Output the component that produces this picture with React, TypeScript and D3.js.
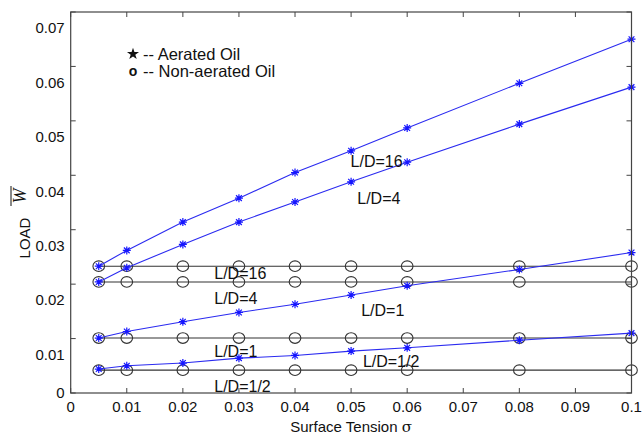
import * as d3 from "d3";

// surface tension values where the load was evaluated
const sigma = [0.005, 0.01, 0.02, 0.03, 0.04, 0.05, 0.06, 0.08, 0.1];

// aerated oil (blue asterisks)
const aeratedLD16 = [0.0233, 0.0262, 0.0314, 0.0358, 0.0405, 0.0445, 0.0487, 0.0569, 0.065];
const aeratedLD4 = [0.0204, 0.023, 0.0273, 0.0314, 0.0351, 0.0388, 0.0424, 0.0494, 0.0562];
const aeratedLD1 = [0.0101, 0.0113, 0.0131, 0.0148, 0.0163, 0.018, 0.0197, 0.0227, 0.0258];
const aeratedLDHalf = [0.0044, 0.005, 0.0055, 0.0064, 0.0069, 0.0077, 0.0083, 0.0097, 0.011];

// non-aerated oil (black circles)
const plainLD16 = [0.0233, 0.0233, 0.0233, 0.0233, 0.0233, 0.0233, 0.0233, 0.0233, 0.0233];
const plainLD4 = [0.0204, 0.0204, 0.0204, 0.0204, 0.0204, 0.0204, 0.0204, 0.0204, 0.0204];
const plainLD1 = [0.0101, 0.0101, 0.0101, 0.0101, 0.0101, 0.0101, 0.0101, 0.0101, 0.0101];
const plainLDHalf = [0.0042, 0.0042, 0.0042, 0.0042, 0.0042, 0.0042, 0.0042, 0.0042, 0.0042];

const xTicks = [0, 0.01, 0.02, 0.03, 0.04, 0.05, 0.06, 0.07, 0.08, 0.09, 0.1];
const xTickLabels = ["0", "0.01", "0.02", "0.03", "0.04", "0.05", "0.06", "0.07", "0.08", "0.09", "0.1"];
const yTicks = [0, 0.01, 0.02, 0.03, 0.04, 0.05, 0.06, 0.07];
const yTickLabels = ["0", "0.01", "0.02", "0.03", "0.04", "0.05", "0.06", "0.07"];

// curve labels, in data units (left edge, vertical centre)
const curveLabels = [
  { text: "L/D=16", x: 0.0499, y: 0.0425 },
  { text: "L/D=4", x: 0.0511, y: 0.0358 },
  { text: "L/D=16", x: 0.0256, y: 0.022 },
  { text: "L/D=4", x: 0.0256, y: 0.0173 },
  { text: "L/D=1", x: 0.0518, y: 0.0151 },
  { text: "L/D=1", x: 0.0256, y: 0.0076 },
  { text: "L/D=1/2", x: 0.0521, y: 0.0058 },
  { text: "L/D=1/2", x: 0.0256, y: 0.0013 },
];

const width = 643;
const height = 437;
const left = 70.7;
const right = 631.5;
const top = 12;
const bottom = 393;
const font = "Liberation Sans, Arial, sans-serif";

function asterisk(cx: number, cy: number, r: number) {
  const d = r * 0.72;
  return `M${cx - r},${cy}h${2 * r}M${cx},${cy - r}v${2 * r}` +
    `M${cx - d},${cy - d}l${2 * d},${2 * d}M${cx - d},${cy + d}l${2 * d},${-2 * d}`;
}

export default function App() {
  const x = d3.scaleLinear().domain([0, 0.1]).range([left, right]);
  const y = d3.scaleLinear().domain([0, 0.07]).range([bottom, top]);
  const line = d3.line<number>().x((_, i) => x(sigma[i])).y(d => y(d));

  const plain = [plainLD16, plainLD4, plainLD1, plainLDHalf];
  const aerated = [aeratedLD16, aeratedLD4, aeratedLD1, aeratedLDHalf];
  const star = d3.symbol().type(d3.symbolStar).size(45)();

  return (
    <svg width={width} height={height} style={{ position: "absolute", left: 0, top: 0, background: "#fff" }}
         fontFamily={font}>
      <rect width={width} height={height} fill="#fff" />

      {/* non-aerated: black lines with circles */}
      {plain.map((s, k) => (
        <g key={"p" + k}>
          <path d={line(s) ?? ""} fill="none" stroke="#333" strokeWidth={1.1} />
          {s.map((v, i) => (
            <ellipse key={i} cx={x(sigma[i])} cy={y(v)} rx={5.8} ry={5.3} fill="none" stroke="#333" strokeWidth={1.1} />
          ))}
        </g>
      ))}

      {/* aerated: blue lines with asterisks */}
      {aerated.map((s, k) => (
        <g key={"a" + k}>
          <path d={line(s) ?? ""} fill="none" stroke="#2b2bf0" strokeWidth={1.1} />
          {s.map((v, i) => (
            <path key={i} d={asterisk(x(sigma[i]), y(v), 4)} stroke="#1515ff" strokeWidth={1.2} fill="none" />
          ))}
        </g>
      ))}

      {/* curve labels */}
      {curveLabels.map((l, i) => (
        <text key={i} x={x(l.x)} y={y(l.y)} dy="0.35em" fontSize={16} fill="#111">{l.text}</text>
      ))}

      {/* axes box */}
      <rect x={left} y={top} width={right - left} height={bottom - top} fill="none" stroke="#444" strokeWidth={1.2} />
      {xTicks.map((t, i) => (
        <g key={"xt" + i}>
          <line x1={x(t)} x2={x(t)} y1={bottom} y2={bottom - 5} stroke="#444" />
          <line x1={x(t)} x2={x(t)} y1={top} y2={top + 5} stroke="#444" />
          <text x={x(t)} y={bottom + 19} textAnchor="middle" fontSize={15} fill="#111">{xTickLabels[i]}</text>
        </g>
      ))}
      {yTicks.map((t, i) => (
        <g key={"yt" + i}>
          <line x1={left} x2={left + 5} y1={y(t)} y2={y(t)} stroke="#444" />
          <line x1={right} x2={right - 5} y1={y(t)} y2={y(t)} stroke="#444" />
          <text x={left - 6} y={y(t) + (t === 0 ? 0 : 16)} dy="0.35em" textAnchor="end" fontSize={15} fill="#111">
            {yTickLabels[i]}
          </text>
        </g>
      ))}

      {/* axis titles */}
      <text x={(left + right) / 2} y={432} textAnchor="middle" fontSize={15} fill="#111">
        Surface Tension <tspan fontFamily="DejaVu Serif, serif">σ</tspan>
      </text>
      <g transform="rotate(-90)">
        <text x={-238} y={30} textAnchor="middle" fontSize={15} fill="#111">LOAD</text>
        <text x={-196} y={26} textAnchor="middle" fontSize={18} fill="#111"
              fontFamily="Liberation Serif, serif" fontStyle="italic">W</text>
        <line x1={-206} x2={-186} y1={11} y2={11} stroke="#111" strokeWidth={1} />
      </g>

      {/* legend */}
      <path d={star} transform="translate(133,54)" fill="#111" />
      <text x={143} y={54} dy="0.35em" fontSize={16.5} fill="#111">-- Aerated Oil</text>
      <text x={133} y={71} dy="0.35em" textAnchor="middle" fontSize={14} fontWeight="bold" fill="#111">o</text>
      <text x={143} y={71} dy="0.35em" fontSize={16.5} fill="#111">-- Non-aerated Oil</text>
    </svg>
  );
}
